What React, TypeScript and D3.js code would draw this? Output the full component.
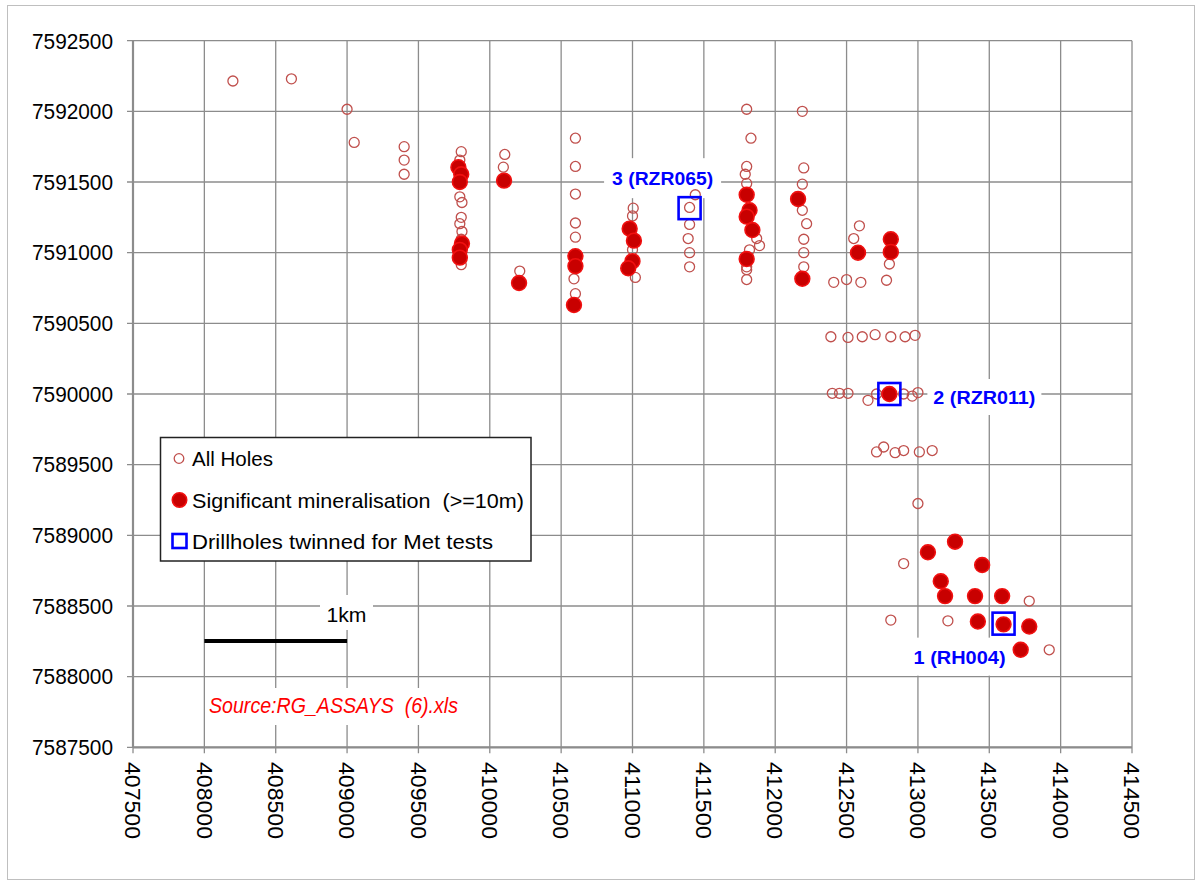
import React from "react";
import * as d3 from "d3";

// ---------- DATA ----------
const xTicks = [407500, 408000, 408500, 409000, 409500, 410000, 410500, 411000, 411500, 412000, 412500, 413000, 413500, 414000, 414500];
const yTicks = [7587500, 7588000, 7588500, 7589000, 7589500, 7590000, 7590500, 7591000, 7591500, 7592000, 7592500];

// All holes (open circles): [easting, northing]
const allHoles: [number, number][] = [
  [408200, 7592215], [408610, 7592230], [409000, 7592015], [409050, 7591780],
  [409400, 7591750], [409400, 7591655], [409400, 7591555],
  [409800, 7591715], [409790, 7591655], [409790, 7591395], [409805, 7591355], [409800, 7591250],
  [409790, 7591205], [409805, 7591150], [409800, 7591095], [409800, 7590915],
  [410105, 7591695], [410095, 7591605],
  [410210, 7590870],
  [410600, 7591810], [410600, 7591610], [410600, 7591415], [410600, 7591210], [410600, 7591110],
  [410590, 7590815], [410600, 7590710],
  [411005, 7591315], [411000, 7591260], [411000, 7591020], [411020, 7590825],
  [411440, 7591410], [411400, 7591320], [411400, 7591200], [411390, 7591100], [411400, 7591000], [411400, 7590900],
  [411800, 7592015], [411830, 7591810], [411800, 7591610], [411790, 7591555], [411800, 7591490],
  [411870, 7591100], [411890, 7591050], [411820, 7591020], [411800, 7590900], [411800, 7590880], [411800, 7590810],
  [412190, 7592000], [412200, 7591600], [412190, 7591485], [412190, 7591300], [412220, 7591205],
  [412200, 7591095], [412200, 7591000], [412200, 7590900],
  [412410, 7590790], [412500, 7590810], [412600, 7590790], [412590, 7591190], [412550, 7591100],
  [412800, 7590920], [412780, 7590805],
  [412390, 7590405], [412510, 7590400], [412610, 7590405], [412700, 7590420], [412810, 7590405],
  [412910, 7590405], [412980, 7590415],
  [412400, 7590005], [412450, 7590005], [412510, 7590005], [412650, 7589955], [412710, 7590000],
  [412780, 7590000], [412900, 7590000], [412960, 7589985], [413000, 7590010],
  [412710, 7589590], [412760, 7589625], [412840, 7589585], [412900, 7589600], [413010, 7589590], [413100, 7589600],
  [413000, 7589225],
  [412900, 7588800], [413780, 7588535], [412810, 7588400], [413210, 7588395], [413920, 7588190],
];

// Significant mineralisation (>=10m): filled circles
const significant: [number, number][] = [
  [409780, 7591605], [409800, 7591555], [409790, 7591500], [409805, 7591065], [409790, 7591020], [409790, 7590965],
  [410100, 7591510],
  [410205, 7590785],
  [410600, 7590975], [410600, 7590905], [410590, 7590630],
  [410980, 7591170], [411010, 7591085], [411000, 7590940], [410970, 7590890],
  [411800, 7591410], [411820, 7591300], [411800, 7591255], [411840, 7591160], [411800, 7590955],
  [412160, 7591380], [412190, 7590815],
  [412580, 7591000], [412810, 7591095], [412810, 7591005],
  [412800, 7590000],
  [413260, 7588955], [413070, 7588880], [413450, 7588790], [413160, 7588675], [413190, 7588570],
  [413400, 7588570], [413590, 7588570], [413420, 7588390], [413600, 7588370], [413780, 7588355], [413720, 7588190],
];

// Drillholes twinned for Met tests
const twinnedX = [411400, 412800, 413600];
const twinnedY = [7591315, 7590000, 7588375];
const twinnedLabels = ["3 (RZR065)", "2 (RZR011)", "1 (RH004)"];

const legendLabels = ["All Holes", "Significant mineralisation  (>=10m)", "Drillholes twinned for Met tests"];

// ---------- LAYOUT ----------
const W = 1201;
const H = 885;
const x = d3.scaleLinear().domain([407500, 414500]).range([133, 1132]);
const y = d3.scaleLinear().domain([7587500, 7592500]).range([747.3, 40.7]);

const FONT = "'Liberation Sans', Arial, sans-serif";
const GRID = "#8c8c8c";

export default function App() {
  const labelPos = [
    { dx: -27, dy: -30, w: 101, bw: 117, bh: 40 },
    { dx: 95, dy: 3, w: 102, bw: 114, bh: 36 },
    { dx: -44, dy: 33, w: 92, bw: 104, bh: 38 },
  ];
  return (
    <div style={{ position: "absolute", left: 0, top: 0, width: W, height: H, background: "#fff" }}>
      <svg width={W} height={H} style={{ display: "block", whiteSpace: "pre" }}>
        <rect x={0} y={0} width={W} height={H} fill="#fff" />
        <rect x={7.5} y={5.5} width={1187} height={874} fill="#fff" stroke="#bfbfbf" strokeWidth={1} />

        {/* grid */}
        {xTicks.map((t) => (
          <line key={"gx" + t} x1={x(t)} x2={x(t)} y1={y(7592500)} y2={y(7587500) + 6} stroke={GRID} strokeWidth={1.3} />
        ))}
        {yTicks.map((t) => (
          <line key={"gy" + t} x1={x(407500) - 6} x2={x(414500)} y1={y(t)} y2={y(t)} stroke={GRID} strokeWidth={1.3} />
        ))}
        <line x1={x(407500)} x2={x(407500)} y1={y(7592500)} y2={y(7587500)} stroke={GRID} strokeWidth={2.2} />
        <line x1={x(407500)} x2={x(414500)} y1={y(7587500)} y2={y(7587500)} stroke={GRID} strokeWidth={2.2} />

        {yTicks.map((t) => (
          <text key={"yl" + t} x={113} y={y(t) + 7.8} textAnchor="end" fontFamily={FONT} fontSize={21.5}
            textLength={81} lengthAdjust="spacingAndGlyphs" fill="#000">
            {t}
          </text>
        ))}
        {xTicks.map((t) => (
          <text key={"xl" + t} transform={`translate(${x(t) - 7.8},${762}) rotate(90)`} x={0} y={0}
            fontFamily={FONT} fontSize={21.5} textLength={77} lengthAdjust="spacingAndGlyphs" fill="#000">
            {t}
          </text>
        ))}

        {twinnedX.map((tx, i) => {
          const p = labelPos[i];
          const cx = x(tx) + p.dx;
          const cy = y(twinnedY[i]) + p.dy;
          return <rect key={"lb" + i} x={cx - p.bw / 2} y={cy - p.bh / 2} width={p.bw} height={p.bh} fill="#fff" />;
        })}
        <rect x={320} y={595} width={53} height={35} fill="#fff" />
        <rect x={206} y={688} width={256} height={37} fill="#fff" />

        {allHoles.map((d, i) => (
          <circle key={"a" + i} cx={x(d[0])} cy={y(d[1])} r={5} fill="none" stroke="#c0504d" strokeWidth={1.3} />
        ))}
        {significant.map((d, i) => (
          <circle key={"s" + i} cx={x(d[0])} cy={y(d[1])} r={7.4} fill="#c80000" stroke="#f01010" strokeWidth={1.6} />
        ))}
        {twinnedX.map((tx, i) => (
          <rect key={"t" + i} x={x(tx) - 11} y={y(twinnedY[i]) - 11} width={22} height={22} fill="none" stroke="#0000ff" strokeWidth={2.6} />
        ))}
        {twinnedX.map((tx, i) => {
          const p = labelPos[i];
          const cx = x(tx) + p.dx;
          const cy = y(twinnedY[i]) + p.dy;
          return (
            <text key={"tl" + i} x={cx} y={cy + 7} textAnchor="middle" fontFamily={FONT} fontWeight="bold"
              fontSize={19} fill="#0000ff" textLength={p.w} lengthAdjust="spacingAndGlyphs">
              {twinnedLabels[i]}
            </text>
          );
        })}

        {/* legend */}
        <rect x={160.5} y={437.5} width={370.5} height={123.5} fill="#fff" stroke="#222" strokeWidth={1.5} />
        <circle cx={179} cy={458.5} r={4.8} fill="none" stroke="#c0504d" strokeWidth={1.3} />
        <circle cx={179.5} cy={500} r={7.2} fill="#c80000" stroke="#f01010" strokeWidth={1.6} />
        <rect x={172.5} y={534} width={14} height={14} fill="none" stroke="#0000ff" strokeWidth={2.6} />
        {[81, 332, 301].map((len, i) => (
          <text key={"lg" + i} x={192} y={[458.5, 500, 541][i] + 7.8} fontFamily={FONT} fontSize={21}
            textLength={len} lengthAdjust="spacingAndGlyphs" fill="#000" xmlSpace="preserve">
            {legendLabels[i]}
          </text>
        ))}

        {/* scale bar */}
        <line x1={x(408000)} x2={x(409000)} y1={641} y2={641} stroke="#000" strokeWidth={4} />
        <text x={346.5} y={621.5} textAnchor="middle" fontFamily={FONT} fontSize={21} textLength={40}
          lengthAdjust="spacingAndGlyphs" fill="#000">1km</text>

        {/* source */}
        <text x={209} y={713} fontFamily={FONT} fontStyle="italic" fontSize={21.5} textLength={249}
          lengthAdjust="spacingAndGlyphs" fill="#ff0000" xmlSpace="preserve">Source:RG_ASSAYS  (6).xls</text>
      </svg>
    </div>
  );
}
